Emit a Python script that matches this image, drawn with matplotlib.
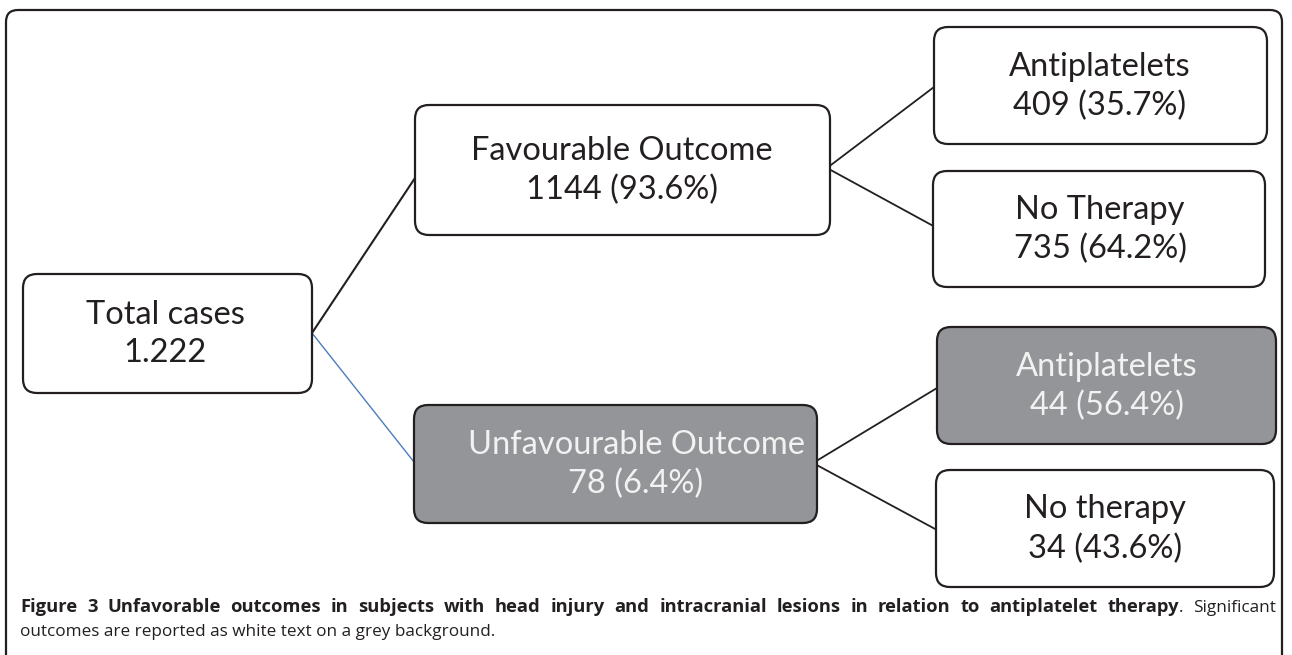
import matplotlib.pyplot as plt
from matplotlib.patches import FancyBboxPatch

# data
node_names = ['Total cases', 'Favourable Outcome', 'Unfavourable Outcome',
              'Antiplatelets', 'No Therapy', 'Antiplatelets', 'No therapy']
node_counts = ['1.222', '1144', '78', '409', '735', '44', '34']
node_pcts = [None, 93.6, 6.4, 35.7, 64.2, 56.4, 43.6]
significant = [False, False, True, False, False, True, False]
edges = [(0, 1), (0, 2), (1, 3), (1, 4), (2, 5), (2, 6)]

caption_bold = ('Figure 3 Unfavorable outcomes in subjects with head injury and '
                'intracranial lesions in relation to antiplatelet therapy')
caption_rest = '. Significant'
caption_line2 = 'outcomes are reported as white text on a grey background.'

# layout in pixels: x0, y0, x1, y1, text centre x
boxes = [
    (23, 274, 312, 393, 165),
    (415, 105, 830, 235, 622),
    (414, 405, 817, 523, 636),
    (934, 27, 1267, 144, 1100),
    (933, 171, 1265, 287, 1100),
    (937, 327, 1276, 444, 1107),
    (936, 470, 1274, 587, 1105),
]
# line endpoints: (start, end)
links = [
    ((312, 333), (415, 178)),
    ((312, 333), (414, 462)),
    ((827, 168), (934, 87)),
    ((827, 168), (937, 228)),
    ((813, 463), (937, 388)),
    ((813, 463), (937, 530)),
]
link_colors = ['#231f20', '#4a7ebb', '#231f20', '#231f20', '#231f20', '#231f20']
link_widths = [1.5, 1.0, 1.3, 1.3, 1.3, 1.3]

ink = '#231f20'
grey = '#939598'

fig = plt.figure(figsize=(12.92, 6.55), dpi=100)
ax = fig.add_axes([0, 0, 1, 1])
ax.set_xlim(0, 1292)
ax.set_ylim(655, 0)
ax.axis('off')

# outer frame (runs off the bottom)
frame = FancyBboxPatch((6, 10), 1276, 700, boxstyle='round,pad=0,rounding_size=12',
                       fc='white', ec=ink, lw=1.6, zorder=0)
ax.add_patch(frame)

for (a, b), (p0, p1), c, w in zip(edges, links, link_colors, link_widths):
    ax.plot([p0[0], p1[0]], [p0[1], p1[1]], color=c, lw=w, zorder=1)

for i, (x0, y0, x1, y1, tx) in enumerate(boxes):
    fc = grey if significant[i] else 'white'
    tc = '#f2f2f2' if significant[i] else ink
    patch = FancyBboxPatch((x0, y0), x1 - x0, y1 - y0,
                           boxstyle='round,pad=0,rounding_size=14',
                           fc=fc, ec=ink, lw=1.6, zorder=2)
    ax.add_patch(patch)
    line2 = node_counts[i]
    if node_pcts[i] is not None:
        line2 = f'{node_counts[i]} ({node_pcts[i]:.1f}%)'
    cy = (y0 + y1) / 2
    ax.text(tx, cy - 19, node_names[i], ha='center', va='center',
            fontsize=23.5, family='Lato', color=tc, zorder=3)
    ax.text(tx, cy + 20, line2, ha='center', va='center',
            fontsize=23.5, family='Lato', color=tc, zorder=3)

# caption, first line justified word by word between the frame margins
cap_size = 12.3
bold_size = 13.2
left, right = 20, 1276
tokens = [(w, 'bold') for w in caption_bold.split()]
tokens.append(('Significant', 'normal'))
renderer = fig.canvas.get_renderer()


def size_for(weight):
    return bold_size if weight == 'bold' else cap_size


def text_width(s, weight):
    t = ax.text(0, 0, s, fontsize=size_for(weight), family='Open Sans', weight=weight)
    bb = t.get_window_extent(renderer)
    t.remove()
    return bb.width


dot_w = text_width('.', 'normal')
widths = [text_width(w, wt) for w, wt in tokens]
widths[-2] += dot_w  # 'therapy' carries the full stop
gap = (right - left - sum(widths)) / (len(tokens) - 1)
x = left
for k, ((w, wt), wd) in enumerate(zip(tokens, widths)):
    ax.text(x, 606, w, ha='left', va='baseline', fontsize=size_for(wt),
            family='Open Sans', weight=wt, color=ink)
    if k == len(tokens) - 2:
        ax.text(x + wd - dot_w, 606, '.', ha='left', va='baseline',
                fontsize=cap_size, family='Open Sans', color=ink)
    x += wd + gap
# baseline at 612 on screen
for t in ax.texts[-(len(tokens) + 1):]:
    t.set_y(612)

ax.text(left, 636, caption_line2, ha='left', va='baseline', fontsize=cap_size,
        family='Open Sans', color=ink)

fig.savefig('out.png', dpi=100)
